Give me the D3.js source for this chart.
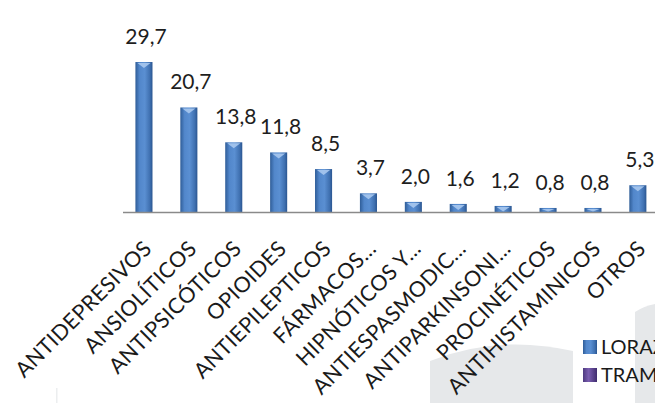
<!DOCTYPE html>
<html>
<head>
<meta charset="utf-8">
<script src="https://cdn.jsdelivr.net/npm/d3@7"></script>
<style>
  body { margin: 0; background: #fff; }
  svg { display: block; }
</style>
</head>
<body>
<div id="draw"></div>
<script>
var categories = ['ANTIDEPRESIVOS', 'ANSIOLÍTICOS', 'ANTIPSICÓTICOS', 'OPIOIDES', 'ANTIEPILEPTICOS',
  'FÁRMACOS...', 'HIPNÓTICOS Y...', 'ANTIESPASMODIC...', 'ANTIPARKINSONI...', 'PROCINÉTICOS',
  'ANTIHISTAMINICOS', 'OTROS'];
var values = [29.7, 20.7, 13.8, 11.8, 8.5, 3.7, 2.0, 1.6, 1.2, 0.8, 0.8, 5.3];
var legendLabels = ['LORAZEPAM', 'TRAMADOL'];
var legendColors = ['blue', 'purple'];

var W = 655, H = 403;
var font = 'Lato, "Open Sans", sans-serif';

var locale = d3.formatLocale({decimal: ',', thousands: '.', grouping: [3], currency: ['', '€']});
var fmt = locale.format('.1f');

var svg = d3.select('#draw').append('svg')
  .attr('width', W).attr('height', H);

var defs = svg.append('defs');
function hgrad(id, stops) {
  var g = defs.append('linearGradient').attr('id', id)
    .attr('x1', '0%').attr('x2', '100%').attr('y1', '0%').attr('y2', '0%');
  stops.forEach(function(s) {
    g.append('stop').attr('offset', s[0]).attr('stop-color', s[1]);
  });
}
hgrad('blue', [['0%', '#2f5d98'], ['25%', '#5287cb'], ['55%', '#5a8fd2'], ['85%', '#3f70b0'], ['100%', '#2a5590']]);
hgrad('purple', [['0%', '#4e3a80'], ['40%', '#7a5eb0'], ['100%', '#3f2c6e']]);

// light grey background shapes (bottom)
var bg = svg.append('g').attr('fill', '#e6e8ea');
bg.append('path').attr('d', 'M430,403 L430,361 Q498,334 573,351 L573,403 Z');
bg.append('path').attr('d', 'M635,403 L635,312 Q644,306 655,304 L655,403 Z');
bg.append('rect').attr('x', 56).attr('y', 388).attr('width', 1.5).attr('height', 15).attr('fill', '#eceeef');

var x = d3.scaleBand()
  .domain(categories)
  .range([121.5, 660.3])
  .paddingInner(0.62)
  .paddingOuter(0.31);

var y = d3.scaleLinear()
  .domain([0, 30])
  .range([212, 60.5]);

var data = categories.map(function(c, i) { return {cat: c, val: values[i]}; });

// bars
var bars = svg.append('g');
bars.selectAll('rect').data(data).enter().append('rect')
  .attr('x', function(d) { return x(d.cat); })
  .attr('y', function(d) { return y(d.val); })
  .attr('width', x.bandwidth())
  .attr('height', function(d) { return y(0) - y(d.val); })
  .attr('fill', 'url(#blue)');

// light bevel triangle at the top of each bar
bars.selectAll('path').data(data).enter().append('path')
  .attr('fill', '#a9c8ee')
  .attr('opacity', 0.9)
  .attr('d', function(d) {
    var x0 = x(d.cat), bw = x.bandwidth(), t = y(d.val);
    var h = Math.min(5, (y(0) - t) - 1.5);
    return 'M' + (x0 + 2) + ',' + (t + 1) + ' L' + (x0 + bw - 2) + ',' + (t + 1) +
      ' L' + (x0 + bw / 2) + ',' + (t + 1 + h) + ' Z';
  });

// axis line
svg.append('line')
  .attr('x1', 123).attr('x2', W)
  .attr('y1', y(0) + 0.5).attr('y2', y(0) + 0.5)
  .attr('stroke', '#8a8a8a').attr('stroke-width', 1.5);

// value labels
svg.append('g').selectAll('text').data(data).enter().append('text')
  .attr('x', function(d) { return x(d.cat) + x.bandwidth() / 2 + 2; })
  .attr('y', function(d) { return y(d.val) - 18; })
  .attr('text-anchor', 'middle')
  .attr('font-family', font)
  .attr('font-size', 21)
  .attr('fill', '#1e1e1e')
  .text(function(d) { return fmt(d.val); });

// category labels
svg.append('g').selectAll('text').data(data).enter().append('text')
  .attr('transform', function(d) {
    return 'translate(' + (x(d.cat) + x.bandwidth() / 2 + 9) + ',250) rotate(-45)';
  })
  .attr('text-anchor', 'end')
  .attr('font-family', font)
  .attr('font-size', 21.5)
  .attr('letter-spacing', 0.3)
  .attr('fill', '#1a1a1a')
  .text(function(d) { return d.cat; });

// legend
var leg = svg.append('g');
legendLabels.forEach(function(l, i) {
  var ly = 340 + i * 28;
  leg.append('rect')
    .attr('x', 583).attr('y', ly).attr('width', 14).attr('height', 14)
    .attr('fill', 'url(#' + legendColors[i] + ')');
  leg.append('text')
    .attr('x', 601).attr('y', ly + 14)
    .attr('font-family', font)
    .attr('font-size', 20)
    .attr('fill', '#1a1a1a')
    .text(l);
});
</script>
</body>
</html>
